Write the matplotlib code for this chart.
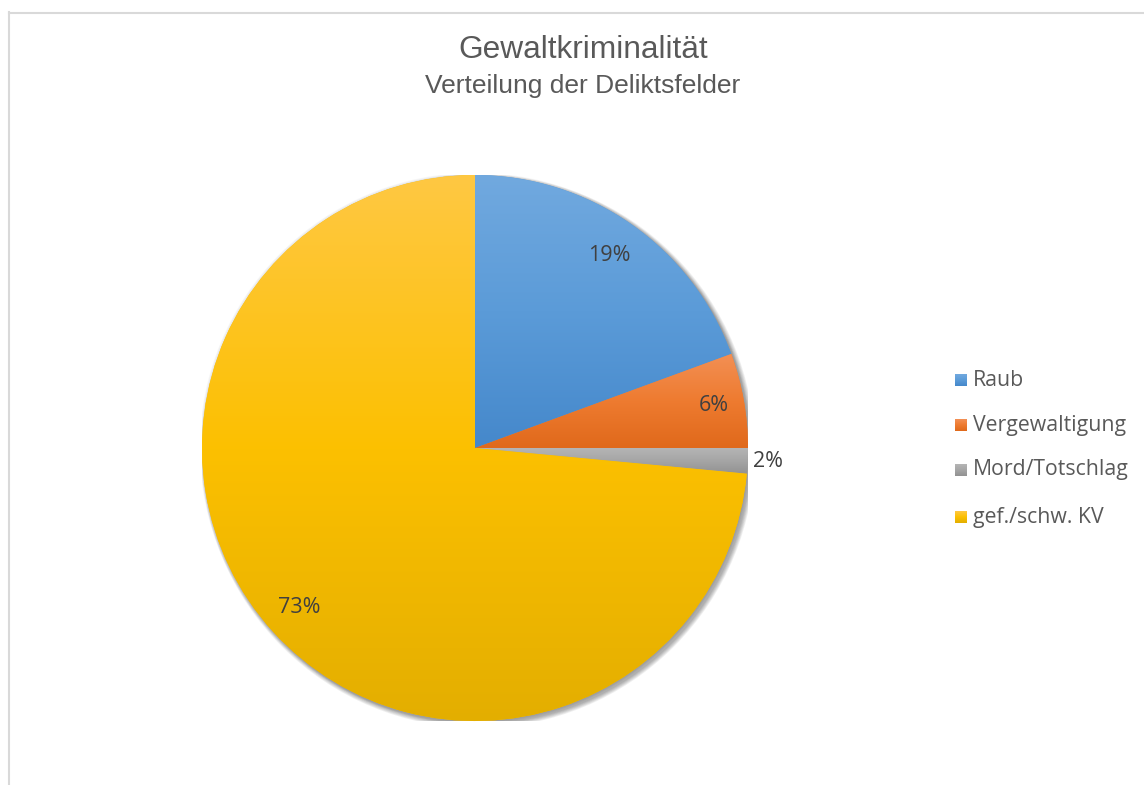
import numpy as np
import matplotlib
matplotlib.use("Agg")
import matplotlib.pyplot as plt
from matplotlib.colors import to_rgb
from matplotlib.lines import Line2D
from matplotlib.patches import Circle

title = "Gewaltkriminalität"
subtitle = "Verteilung der Deliktsfelder"
categories = ["Raub", "Vergewaltigung", "Mord/Totschlag", "gef./schw. KV"]
values = [19.4, 5.6, 1.5, 73.5]
labels = ["19%", "6%", "2%", "73%"]
base_colors = ["#5B9BD5", "#ED7D31", "#A5A5A5", "#FFC000"]
top_colors = ["#71a9df", "#f39055", "#b5b5b5", "#ffc843"]
mid_colors = ["#5b9bd8", "#ee7b30", "#a5a5a5", "#fcc000"]
bottom_colors = ["#4588cb", "#e0691b", "#929292", "#e3ae00"]

W, H = 1144, 785
fig = plt.figure(figsize=(W / 100, H / 100), dpi=100)
fig.patch.set_facecolor("white")

# chart border
fig.add_artist(Line2D([8.5 / W, 8.5 / W], [0, 1 - 12 / H], color="#d9d9d9", lw=1.5))
fig.add_artist(Line2D([8.5 / W, 1.0], [1 - 12.5 / H, 1 - 12.5 / H], color="#d9d9d9", lw=1.5))

cx, cy, r = 475, 448, 273
ax = fig.add_axes([(cx - r) / W, (H - cy - r) / H, 2 * r / W, 2 * r / H])
ax.set_xlim(-1.0, 1.0)
ax.set_ylim(-1.0, 1.0)
ax.set_aspect("equal")
ax.axis("off")

# soft shadow (offset to bottom-right)
px = 1.0 / r
for i in range(6):
    ax.add_patch(Circle((3 * px, -3 * px), 1.0 + i * 0.8 * px,
                        facecolor="black", alpha=0.06, edgecolor="none", zorder=0))
for i in range(3):
    ax.add_patch(Circle((0, 0), 1.0 + (i + 1) * 0.8 * px,
                        facecolor="black", alpha=0.03, edgecolor="none", zorder=0))

wedges, _ = ax.pie(values, startangle=90, counterclock=False, radius=1.0,
                   colors=base_colors, wedgeprops=dict(edgecolor="none"))
ax.set_xlim(-1.0, 1.0)
ax.set_ylim(-1.0, 1.0)


def gradient(ct, cm, cb, n=256):
    top = np.array(to_rgb(ct))
    mid = np.array(to_rgb(cm))
    bot = np.array(to_rgb(cb))
    t = np.linspace(0, 1, n)
    out = np.empty((n, 3))
    for k in range(3):
        out[:, k] = np.interp(t, [0, 0.5, 1], [top[k], mid[k], bot[k]])
    return np.repeat(out[:, None, :], 2, axis=1)


for w, ct, cm, cb in zip(wedges, top_colors, mid_colors, bottom_colors):
    w.set_zorder(1)
    verts = w.get_path().vertices
    y0, y1 = verts[:, 1].min(), verts[:, 1].max()
    x0, x1 = verts[:, 0].min(), verts[:, 0].max()
    im = ax.imshow(gradient(ct, cm, cb), extent=[x0, x1, y0, y1], origin="upper",
                   aspect="auto", zorder=2, interpolation="bilinear")
    im.set_clip_path(w)

ax.set_xlim(-1.0, 1.0)
ax.set_ylim(-1.0, 1.0)

# percentage labels
dists = [0.86, 0.89, 1.075, 0.87]
for w, lab, d in zip(wedges, labels, dists):
    ang = np.deg2rad((w.theta1 + w.theta2) / 2)
    ax.text(d * np.cos(ang), d * np.sin(ang), lab, ha="center", va="center",
            fontsize=15.5, color="#404040", family="Open Sans", zorder=5)

# titles
fig.text(583 / W, 1 - 50 / H, title, ha="center", va="center",
         fontsize=22.8, color="#595959", family="Liberation Sans")
fig.text(583 / W, 1 - 86 / H, subtitle, ha="center", va="center",
         fontsize=19, color="#595959", family="Liberation Sans")

# legend
leg_y = [380, 425, 470, 517]
for name, ct, cm, cb, yy in zip(categories, top_colors, mid_colors, bottom_colors, leg_y):
    s = 12
    lax = fig.add_axes([955 / W, 1 - (yy + s / 2) / H, s / W, s / H])
    lax.imshow(gradient(ct, cm, cb, 32), aspect="auto", origin="upper")
    lax.axis("off")
    fig.text(973 / W, 1 - yy / H, name, ha="left", va="center",
             fontsize=15.3, color="#595959", family="Open Sans")

fig.savefig("out.png", dpi=100, facecolor="white")
